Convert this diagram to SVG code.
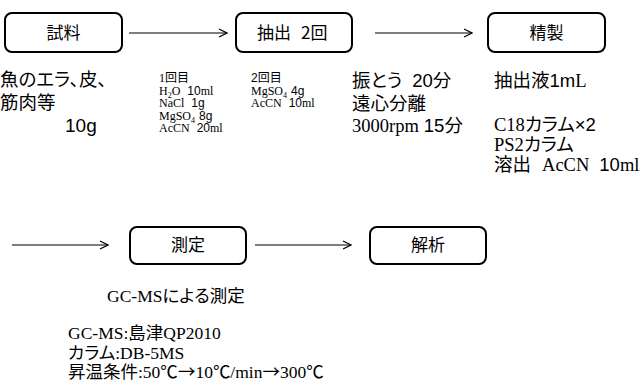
<svg xmlns="http://www.w3.org/2000/svg" width="644" height="383" viewBox="0 0 644 383">
<style>
.box{fill:#fff;stroke:#000;stroke-width:2}
.lbl{font-family:"Noto Sans CJK JP","Liberation Sans",sans-serif;font-size:17px;text-anchor:middle;fill:#000}
.t{font-family:"Liberation Serif","Noto Sans CJK JP",serif;font-size:18.5px;fill:#000;font-feature-settings:"palt"}
.b{font-family:"Liberation Serif","Noto Sans CJK JP",serif;font-size:17.5px;fill:#000;font-feature-settings:"palt"}
.s{font-family:"Liberation Serif","Noto Sans CJK JP",serif;font-size:12px;fill:#000}
.g{font-family:"Liberation Sans","Noto Sans CJK JP",sans-serif}
.j{font-family:"Noto Sans CJK JP",sans-serif}
.conn{stroke:#000;stroke-width:1.2;fill:none}
</style>
<defs>
<marker id="ah" markerWidth="10" markerHeight="10" refX="9" refY="5" orient="auto" markerUnits="userSpaceOnUse">
<path d="M1,1 L9,5 L1,9" fill="none" stroke="#000" stroke-width="1.2"/>
</marker>
</defs>
<g id="connectors">
<line class="conn" x1="129" y1="33" x2="227" y2="33" marker-end="url(#ah)"/>
<line class="conn" x1="375" y1="33" x2="472" y2="33" marker-end="url(#ah)"/>
<line class="conn" x1="12" y1="245" x2="108" y2="245" marker-end="url(#ah)"/>
<line class="conn" x1="255" y1="245" x2="351" y2="245" marker-end="url(#ah)"/>
</g>
<g id="node-shiryo">
<rect class="box" x="5" y="13" width="117" height="39" rx="7"/>
<text class="lbl" x="63.5" y="39">試料</text>
</g>
<g id="node-chushutsu">
<rect class="box" x="236" y="13" width="116" height="39" rx="7"/>
<text class="lbl" x="257" y="39" style="text-anchor:start">抽出<tspan dx="10">2回</tspan></text>
</g>
<g id="node-seisei">
<rect class="box" x="488" y="13" width="117" height="39" rx="7"/>
<text class="lbl" x="546.5" y="39">精製</text>
</g>
<g id="node-sokutei">
<rect class="box" x="130" y="227" width="116" height="37" rx="7"/>
<text class="lbl" x="188" y="251">測定</text>
</g>
<g id="node-kaiseki">
<rect class="box" x="370" y="227" width="116" height="37" rx="7"/>
<text class="lbl" x="428" y="251">解析</text>
</g>
<g id="notes">
<text class="t j" x="0" y="86">魚のエラ、皮、</text>
<text class="t j" x="0" y="109">筋肉等</text>
<text class="t g" x="65" y="132" style="font-size:19px">10g</text>

<text class="s" x="159" y="82">1<tspan class="j">回目</tspan></text>
<text class="s" x="159" y="95">H<tspan font-size="8" baseline-shift="-3">2</tspan>O<tspan class="g" dx="7">10</tspan>ml</text>
<text class="s" x="159" y="107">NaCl<tspan class="g" dx="7">1g</tspan></text>
<text class="s" x="159" y="120">MgSO<tspan font-size="8" baseline-shift="-3">4</tspan><tspan class="g" dx="4">8g</tspan></text>
<text class="s" x="159" y="132">AcCN<tspan class="g" dx="7">20</tspan>ml</text>

<text class="s" x="251" y="82"><tspan class="g">2</tspan><tspan class="j">回目</tspan></text>
<text class="s" x="251" y="95">MgSO<tspan font-size="8" baseline-shift="-3">4</tspan><tspan class="g" dx="4">4g</tspan></text>
<text class="s" x="251" y="107">AcCN<tspan class="g" dx="7">10</tspan>ml</text>

<text class="t" x="352" y="87">振とう<tspan class="g" dx="10">20</tspan>分</text>
<text class="t" x="352" y="110">遠心分離</text>
<text class="t" x="352" y="132">3000rpm<tspan class="g" dx="5">15</tspan>分</text>

<text class="t" x="494" y="87">抽出液<tspan class="g">1m</tspan>L</text>
<text class="t" x="494" y="131">C18カラム<tspan class="g">×2</tspan></text>
<text class="t" x="494" y="151">PS2カラム</text>
<text class="t" x="494" y="171">溶出<tspan dx="11">AcCN</tspan><tspan class="g" dx="10">10</tspan>ml</text>

<text class="b" x="107" y="302">GC-MSによる測定</text>
<text class="b" x="68" y="339">GC-MS:島津QP2010</text>
<text class="b" x="68" y="359">カラム:DB-5MS</text>
<text class="b" x="68" y="378">昇温条件:50℃<tspan class="j">→</tspan>10℃/min<tspan class="j">→</tspan>300℃</text>
</g>
</svg>
